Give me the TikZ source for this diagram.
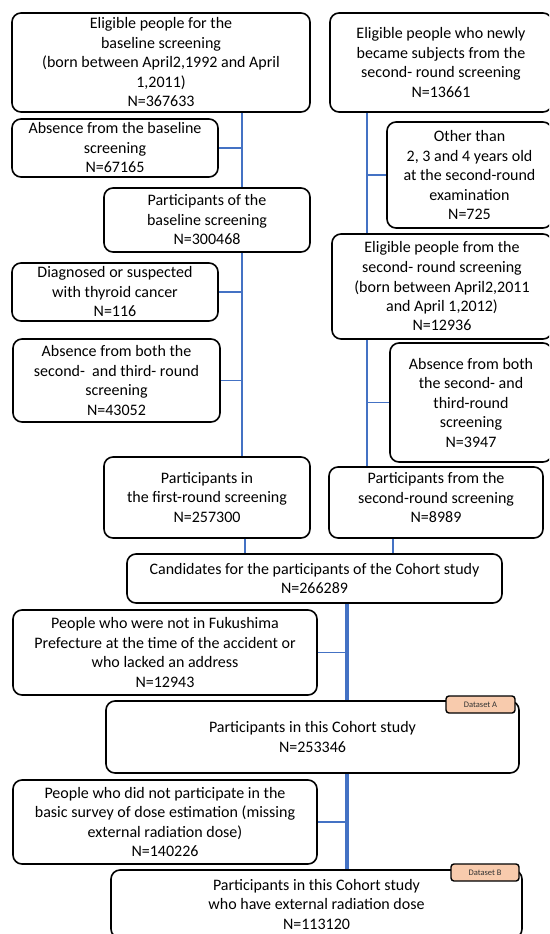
\documentclass[tikz,border=0pt]{standalone}
\usepackage{fontspec}
\setmainfont{Carlito}
\definecolor{spineblue}{HTML}{4472C4}
\definecolor{tagfill}{HTML}{F8CBAD}
\tikzset{
  box/.style={draw=black, line width=1.6pt, rounded corners=9pt, fill=white,
    align=center, inner sep=0pt, font=\fontsize{16pt}{19.5pt}\selectfont},
  tagbox/.style={draw=black, line width=1.4pt, rounded corners=3pt, fill=tagfill,
    align=center, inner sep=0pt, text=black!80, font=\fontsize{8.5pt}{10pt}\selectfont},
  thinline/.style={draw=spineblue, line width=1.7pt},
  thickline/.style={draw=spineblue, line width=3.4pt}
}
\begin{document}
\begin{tikzpicture}[x=1pt,y=-1pt]
\useasboundingbox (0,0) rectangle (549,934);
\clip (0,0) rectangle (549,934);
\fill[white] (0,0) rectangle (549,934);

% spine coordinates
\coordinate (sL) at (242,0);
\coordinate (sR) at (367,0);
\coordinate (cL) at (245,0);
\coordinate (cR) at (393,0);
\coordinate (sM) at (347,0);

% left column
\node[box, minimum width=298pt, minimum height=99pt] (L1) at (161,62.5)
  {Eligible people for the\\ baseline screening\\ (born between April2,1992 and April\\ 1,2011)\\ N=367633};
\node[box, minimum width=206pt, minimum height=58pt] (A1) at (115,148)
  {Absence from the baseline\\ screening\\ N=67165};
\node[box, minimum width=206pt, minimum height=64pt] (P0) at (207,220)
  {Participants of the\\ baseline screening\\ N=300468};
\node[box, minimum width=206pt, minimum height=58pt] (D) at (115,292)
  {Diagnosed or suspected\\ with thyroid cancer\\ N=116};
\node[box, minimum width=207pt, minimum height=83pt] (A2) at (116.5,380.5)
  {Absence from both the\\ second-\ \ and third- round\\ screening\\ N=43052};
\node[box, minimum width=206pt, minimum height=81pt] (P1) at (207,497.5)
  {Participants in\\ the first-round screening\\ N=257300};

% right column
\node[box, minimum width=222pt, minimum height=99pt] (R1) at (441,62.5)
  {Eligible people who newly\\ became subjects from the\\ second- round screening\\ N=13661};
\node[box, minimum width=165pt, minimum height=106pt] (O) at (469.5,175)
  {Other than\\ 2, 3 and 4 years old\\ at the second-round\\ examination\\ N=725};
\node[box, minimum width=220pt, minimum height=105pt] (E2) at (442,286.5)
  {Eligible people from the\\ second- round screening\\ (born between April2,2011\\ and April 1,2012)\\ N=12936};
\node[box, minimum width=162pt, minimum height=119pt] (A3) at (471,402.5)
  {Absence from both\\ the second- and\\ third-round\\ screening\\ N=3947};
\node[box, minimum width=214pt, minimum height=71pt, text depth=10pt] (P2) at (436,502.5)
  {Participants from the\\ second-round screening\\ N=8989};

% lower part
\node[box, minimum width=375pt, minimum height=49pt] (C) at (314.5,578.5)
  {Candidates for the participants of the Cohort study\\ N=266289};
\node[box, minimum width=304pt, minimum height=85pt] (F) at (165,652.5)
  {People who were not in Fukushima\\ Prefecture at the time of the accident or\\ who lacked an address\\ N=12943};
\node[box, minimum width=413pt, minimum height=72pt] (DA) at (312.5,737)
  {Participants in this Cohort study\\ N=253346};
\node[box, minimum width=304pt, minimum height=84pt] (G) at (165,822)
  {People who did not participate in the\\ basic survey of dose estimation (missing\\ external radiation dose)\\ N=140226};
\node[box, minimum width=411pt, minimum height=68pt] (DB) at (316.5,904)
  {Participants in this Cohort study\\ who have external radiation dose\\ N=113120};

\node[tagbox, minimum width=69pt, minimum height=17pt] (TA) at (480.5,704.5) {Dataset A};
\node[tagbox, minimum width=68pt, minimum height=17pt] (TB) at (485,872.5) {Dataset B};

% left spine
\draw[thinline] (L1.south -| sL) -- (P0.north -| sL);
\draw[thinline] (P0.south -| sL) -- (P1.north -| sL);
\draw[thinline] (A1.east) -- (A1.east -| sL);
\draw[thinline] (D.east) -- (D.east -| sL);
\draw[thinline] (A2.east) -- (A2.east -| sL);

% right spine
\draw[thinline] (R1.south -| sR) -- (E2.north -| sR);
\draw[thinline] (E2.south -| sR) -- (P2.north -| sR);
\draw[thinline] (O.west) -- (O.west -| sR);
\draw[thinline] (A3.west) -- (A3.west -| sR);

% to candidates
\draw[thinline] (P1.south -| cL) -- (C.north -| cL);
\draw[thinline] (P2.south -| cR) -- (C.north -| cR);

% main spine
\draw[thickline] (C.south -| sM) -- (DA.north -| sM);
\draw[thickline] (DA.south -| sM) -- (DB.north -| sM);
\draw[thinline] (F.east) -- (F.east -| sM);
\draw[thinline] (G.east) -- (G.east -| sM);
\end{tikzpicture}
\end{document}
